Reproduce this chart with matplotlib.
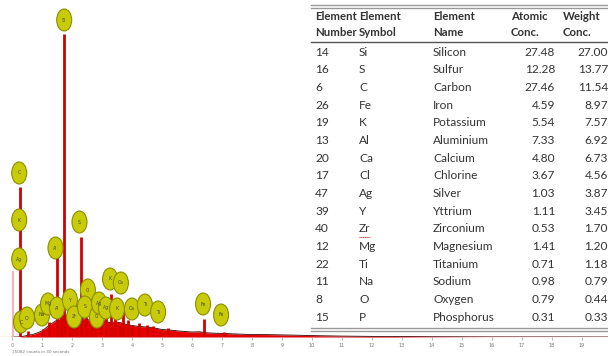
import numpy as np
import matplotlib
matplotlib.use('Agg')
import matplotlib.pyplot as plt
from matplotlib.patches import Ellipse

# spectrum continuum (keV, counts)
bg_energy = [0.0, 0.25, 0.5, 0.75, 1.0, 1.25, 1.5, 1.75, 2.0, 2.25, 2.5, 2.75, 3.0, 3.25,
             3.5, 3.75, 4.0, 4.25, 4.5, 4.75, 5.0, 5.25, 5.5, 5.75, 6.0, 6.25, 6.5, 6.75,
             7.0, 7.25, 7.5, 7.75, 8.0, 8.5, 9.0, 9.5, 10.0, 11.0, 12.0, 14.0, 16.0, 20.0]
bg_counts = [0, 0, 15, 30, 60, 120, 170, 210, 230, 190, 175, 160, 170, 145,
             150, 130, 115, 105, 100, 90, 75, 70, 62, 55, 50, 52, 42, 38,
             36, 33, 30, 27, 25, 24, 21, 18, 14, 9, 6, 3, 1, 0]

# peaks (keV, counts)
peak_energy = [0.28, 0.52, 1.04, 1.25, 1.49, 1.74, 1.92, 2.01, 2.31, 2.46, 2.62, 2.98,
               3.31, 3.59, 3.69, 4.01, 4.51, 4.93, 6.40, 7.06,
               1.62, 2.12, 2.78, 3.12, 3.45, 3.88, 4.25, 4.70, 5.20]
peak_counts = [1500, 60, 80, 150, 800, 3030, 200, 250, 1000, 250, 200, 200,
               430, 150, 250, 120, 120, 60, 180, 50,
               300, 280, 230, 210, 190, 170, 140, 110, 90]
edge_energy = 0.03
edge_counts = 660

# element labels on the spectrum
label_sym = ['Si', 'C', 'K', 'Ag', 'Al', 'S', 'K', 'Ca', 'Cl', 'Fe', 'Fe',
             'C', 'O', 'Na', 'Mg', 'Al', 'Y', 'Zr', 'S', 'Cl', 'Ag', 'Ag', 'K', 'Ca', 'Ti', 'Ti']
label_e = [1.74, 0.24, 0.24, 0.24, 1.45, 2.25, 3.27, 3.63, 2.53, 6.37, 6.97,
           0.3, 0.5, 1.0, 1.2, 1.5, 1.93, 2.07, 2.43, 2.83, 2.9, 3.13, 3.5, 4.0, 4.43, 4.87]
label_y = [3170, 1640, 1170, 780, 890, 1150, 580, 540, 470, 330, 220,
           150, 190, 220, 330, 290, 370, 200, 300, 200, 340, 290, 280, 280, 320, 250]

# table
el_number = ['14', '16', '6', '26', '19', '13', '20', '17', '47', '39', '40', '12', '22', '11', '8', '15']
el_symbol = ['Si', 'S', 'C', 'Fe', 'K', 'Al', 'Ca', 'Cl', 'Ag', 'Y', 'Zr', 'Mg', 'Ti', 'Na', 'O', 'P']
el_name = ['Silicon', 'Sulfur', 'Carbon', 'Iron', 'Potassium', 'Aluminium', 'Calcium', 'Chlorine',
           'Silver', 'Yttrium', 'Zirconium', 'Magnesium', 'Titanium', 'Sodium', 'Oxygen', 'Phosphorus']
atomic = ['27.48', '12.28', '27.46', '4.59', '5.54', '7.33', '4.80', '3.67',
          '1.03', '1.11', '0.53', '1.41', '0.71', '0.98', '0.79', '0.31']
weight = ['27.00', '13.77', '11.54', '8.97', '7.57', '6.92', '6.73', '4.56',
          '3.87', '3.45', '1.70', '1.20', '1.18', '0.79', '0.44', '0.33']

W, H = 608, 356
fig = plt.figure(figsize=(W / 100, H / 100), dpi=100)

def fx(x):
    return x / W

def fy(y):
    return 1 - y / H

ax = fig.add_axes([0, fy(337), 1, 337 / H])
ax.set_xlim(-0.4, 19.87)
ax.set_ylim(0, 3370)

ax.fill_between(bg_energy, bg_counts, color='#e60000', lw=0)
ax.plot(bg_energy, bg_counts, color='#3a0000', lw=0.6)
ax.vlines(edge_energy, 0, edge_counts, color='#f2b8b8', lw=1.5)
ax.vlines(peak_energy, 0, peak_counts, color='#d40000', lw=2.0)
ax.axhline(0, color='#cc2222', lw=0.8)

for s, e, y in zip(label_sym, label_e, label_y):
    ax.add_patch(Ellipse((e, y), 0.5, 220, facecolor='#c8cc08', edgecolor='#8c8e00',
                         lw=0.8, zorder=5))
    ax.text(e, y, s, fontsize=3.3, color='#444', ha='center', va='center', zorder=6)

for s in ax.spines.values():
    s.set_visible(False)
ax.set_yticks([])
ax.set_xticks(range(20))
ax.tick_params(axis='x', length=2, width=0.5, color='#999', labelsize=3.5,
               labelcolor='#777', pad=2)
fig.text(fx(12), fy(352), '15082 counts in 30 seconds', fontsize=3, color='#777',
         va='center')

# table
font = 'Lato'
tc = '#333333'
fs = 8.6
fig.add_artist(plt.Line2D([fx(311), 1], [fy(5), fy(5)], color='#999', lw=1.0))
fig.add_artist(plt.Line2D([fx(311), 1], [fy(7.5), fy(7.5)], color='#999', lw=1.0))
fig.add_artist(plt.Line2D([fx(311), 1], [fy(42), fy(42)], color='#555', lw=1.0))
fig.add_artist(plt.Line2D([fx(311), 1], [fy(328), fy(328)], color='#999', lw=1.0))
fig.add_artist(plt.Line2D([fx(311), 1], [fy(330.5), fy(330.5)], color='#999', lw=1.0))

hdr = [('Element', 'Number', 315), ('Element', 'Symbol', 359), ('Element', 'Name', 433),
       ('Atomic', 'Conc.', 511), ('Weight', 'Conc.', 563)]
for a, b, x in hdr:
    fig.text(fx(x), fy(16), a, fontsize=8.2, fontweight='bold', family=font, color=tc, va='center')
    fig.text(fx(x), fy(33), b, fontsize=8.2, fontweight='bold', family=font, color=tc, va='center')

for i in range(len(el_number)):
    y = 52 + 17.67 * i
    fig.text(fx(315), fy(y), el_number[i], fontsize=fs, family=font, color=tc, va='center')
    fig.text(fx(359), fy(y), el_symbol[i], fontsize=fs, family=font, color=tc, va='center')
    fig.text(fx(433), fy(y), el_name[i], fontsize=fs, family=font, color=tc, va='center')
    fig.text(fx(555), fy(y), atomic[i], fontsize=fs, family=font, color=tc, va='center', ha='right')
    fig.text(fx(608), fy(y), weight[i], fontsize=fs, family=font, color=tc, va='center', ha='right')
    if el_symbol[i] == 'Zr':
        fig.add_artist(plt.Line2D([fx(359), fx(370)], [fy(y + 8), fy(y + 8)],
                                  color='#e03030', lw=0.8, ls=(0, (1, 0.6))))

fig.savefig('out.png', dpi=100)
